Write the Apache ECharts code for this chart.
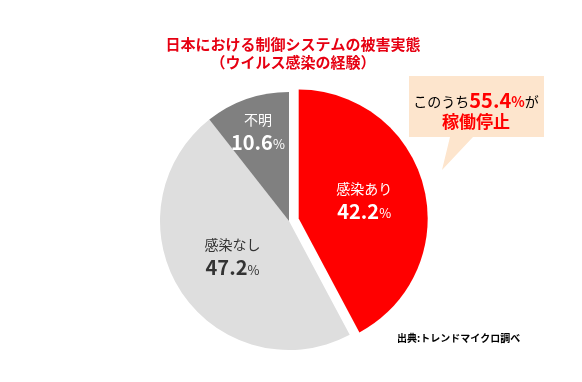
<!DOCTYPE html>
<html>
<head>
<meta charset="utf-8">
<script src="https://cdn.jsdelivr.net/npm/echarts@6/dist/echarts.min.js"></script>
<style>html,body{margin:0;padding:0;background:#fff;}#c{width:582px;height:382px;}</style>
</head>
<body>
<div id="c"></div>
<script>
const categories = ['感染あり', '感染なし', '不明'];
const values = [42.2, 47.2, 10.6];
const colors = ['#ff0000', '#dedede', '#808080'];
const labelColors = ['#ffffff', '#333333', '#ffffff'];
const titleLines = ['日本における制御システムの被害実態', '（ウイルス感染の経験）'];
const calloutPct = '55.4';
const calloutText = ['このうち', 'が', '稼働停止'];
const sourceText = '出典:トレンドマイクロ調べ';

const FONT = '"Noto Sans CJK JP", "Noto Sans", sans-serif';
const chart = echarts.init(document.getElementById('c'), null, {renderer: 'canvas'});

function richFor(color) {
  return {
    n: {fontFamily: FONT, fontSize: 14, color: color, lineHeight: 22, align: 'center'},
    v: {fontFamily: FONT, fontSize: 20, fontWeight: 'bold', color: color, lineHeight: 24},
    p: {fontFamily: FONT, fontSize: 13, color: color, lineHeight: 24, padding: [4, 0, 0, 0]}
  };
}

chart.setOption({
  animation: false,
  title: {
    text: titleLines.join('\n'),
    left: 288, top: 30, textAlign: 'center',
    textStyle: {fontFamily: FONT, fontSize: 15, fontWeight: 'bold', color: '#e60012', lineHeight: 18}
  },
  series: [{
    type: 'pie',
    center: [289, 221],
    radius: [0, 129],
    startAngle: 90,
    clockwise: true,
    selectedMode: 'single',
    selectedOffset: 10,
    avoidLabelOverlap: false,
    emphasis: {disabled: true},
    data: categories.map((c, i) => ({
      name: c, value: values[i], selected: i === 0,
      itemStyle: {color: colors[i], borderWidth: 0},
      label: {rich: richFor(labelColors[i])}
    })),
    label: {
      show: true, position: 'inside',
      formatter: p => '{n|' + p.name + '}\n{v|' + p.value.toFixed(1) + '}{p|%}'
    },
    labelLine: {show: false},
    labelLayout: function (params) {
      if (params.dataIndex === 2) return {dx: -9, dy: -26};
      if (params.dataIndex === 1) return {dx: 0, dy: -1};
      return {dy: -2};
    }
  }],
  graphic: [
    {
      type: 'polygon', z: 1,
      shape: {points: [[409, 76], [544, 76], [544, 137], [473, 137], [442, 170], [450, 137], [409, 137]]},
      style: {fill: '#fde5cd'}
    },
    {
      type: 'text', z: 2, x: 476, y: 100,
      style: {
        text: '{k|' + calloutText[0] + '}{r|' + calloutPct + '}{rp|%}{k|' + calloutText[1] + '}',
        align: 'center', verticalAlign: 'middle',
        rich: {
          k: {fontFamily: FONT, fontSize: 14, fill: '#000', padding: [4, 0, 0, 0]},
          r: {fontFamily: FONT, fontSize: 20, fontWeight: 'bold', fill: '#ff0000'},
          rp: {fontFamily: FONT, fontSize: 14, fontWeight: 'bold', fill: '#ff0000', padding: [4, 0, 0, 0]}
        }
      }
    },
    {
      type: 'text', z: 2, x: 476, y: 122,
      style: {
        text: calloutText[2], align: 'center', verticalAlign: 'middle',
        fontFamily: FONT, fontSize: 17, fontWeight: 'bold', fill: '#ff0000'
      }
    },
    {
      type: 'text', z: 2, x: 397, y: 338,
      style: {
        text: sourceText, align: 'left', verticalAlign: 'middle',
        fontFamily: FONT, fontSize: 10, fontWeight: 'bold', fill: '#000'
      }
    }
  ]
});
</script>
</body>
</html>
